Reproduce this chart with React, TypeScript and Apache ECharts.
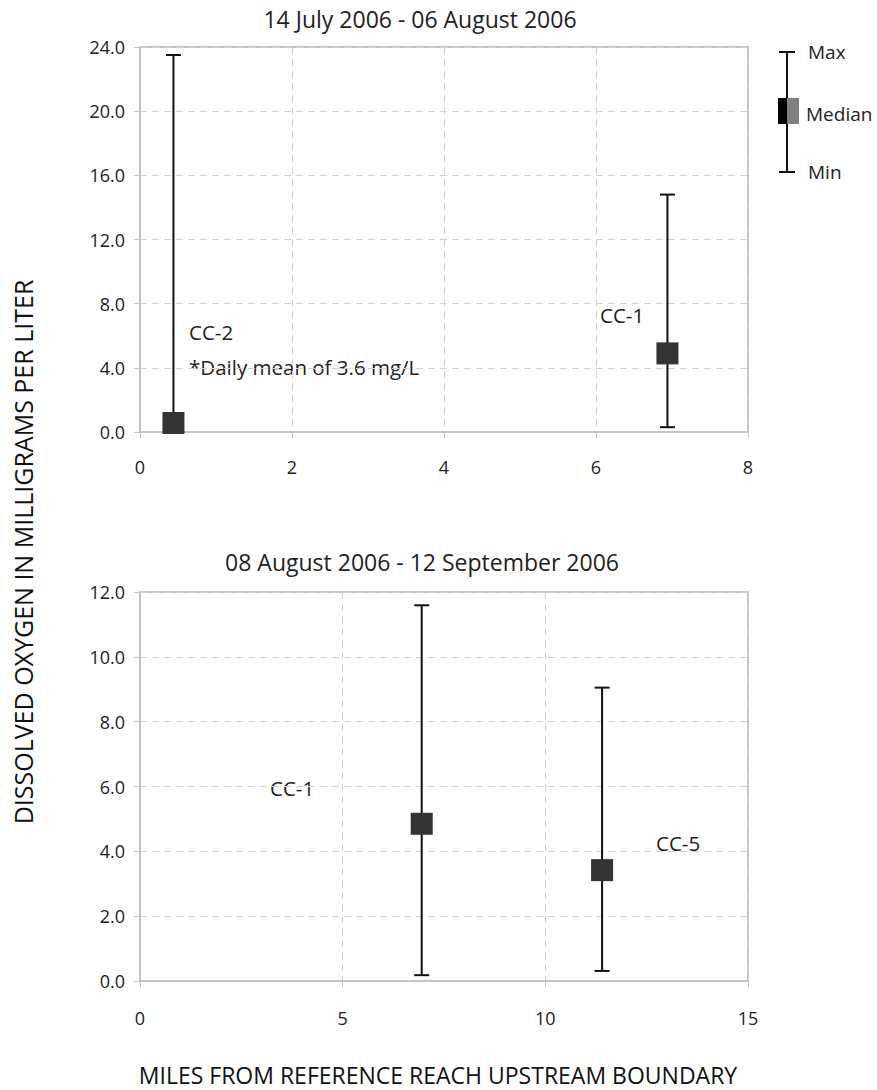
import React, { useEffect, useRef } from "react";
import * as echarts from "echarts";

// ---- Data ----
const topTitle = "14 July 2006 - 06 August 2006";
const bottomTitle = "08 August 2006 - 12 September 2006";
const yAxisTitle = "DISSOLVED OXYGEN IN MILLIGRAMS PER LITER";
const xAxisTitle = "MILES FROM REFERENCE REACH UPSTREAM BOUNDARY";

const topSites = ["CC-2", "CC-1"];
const topMiles = [0.44, 6.94];
const topMin = [0.2, 0.3];
const topMedian = [0.56, 4.9];
const topMax = [23.5, 14.8];

const bottomSites = ["CC-1", "CC-5"];
const bottomMiles = [6.95, 11.4];
const bottomMin = [0.18, 0.31];
const bottomMedian = [4.85, 3.42];
const bottomMax = [11.59, 9.05];

const topXTicks = { min: 0, max: 8, interval: 2 };
const topYTicks = { min: 0, max: 24, interval: 4 };
const bottomXTicks = { min: 0, max: 15, interval: 5 };
const bottomYTicks = { min: 0, max: 12, interval: 2 };

const FONT = "'Open Sans', 'Noto Sans', sans-serif";
const TEXT = "#222";
const BORDER = "#c4c4c4";
const GRIDLINE = "#d0d0d0";

function errorBarItem(params: any, api: any) {
  const x = api.value(0);
  const lo = api.coord([x, api.value(1)]);
  const hi = api.coord([x, api.value(2)]);
  const cap = 7.5;
  const style = { stroke: "#111", lineWidth: 2 };
  return {
    type: "group",
    children: [
      { type: "line", shape: { x1: lo[0], y1: lo[1], x2: hi[0], y2: hi[1] }, style },
      { type: "line", shape: { x1: hi[0] - cap, y1: hi[1], x2: hi[0] + cap, y2: hi[1] }, style },
      { type: "line", shape: { x1: lo[0] - cap, y1: lo[1], x2: lo[0] + cap, y2: lo[1] }, style },
    ],
  };
}

function xAxisCfg(gridIndex: number, t: any, margin: number) {
  return {
    type: "value",
    gridIndex,
    min: t.min,
    max: t.max,
    interval: t.interval,
    axisLine: { show: true, lineStyle: { color: BORDER, width: 2 } },
    axisTick: { show: true, length: 6, lineStyle: { color: BORDER, width: 1 } },
    axisLabel: { color: TEXT, fontSize: 18, fontFamily: FONT, margin },
    splitLine: { show: true, lineStyle: { color: GRIDLINE, type: [7, 5], width: 1 } },
  };
}

function yAxisCfg(gridIndex: number, t: any) {
  return {
    type: "value",
    gridIndex,
    min: t.min,
    max: t.max,
    interval: t.interval,
    axisLine: { show: true, lineStyle: { color: BORDER, width: 2 } },
    axisTick: { show: true, length: 6, lineStyle: { color: BORDER, width: 1 } },
    axisLabel: {
      color: TEXT,
      fontSize: 18,
      fontFamily: FONT,
      margin: 15,
      formatter: (v: number) => v.toFixed(1),
    },
    splitLine: { show: true, lineStyle: { color: GRIDLINE, type: [7, 5], width: 1 } },
  };
}

export default function App() {
  const ref = useRef<HTMLDivElement>(null);

  useEffect(() => {
    if (!ref.current) return;
    const chart = echarts.init(ref.current, null, { renderer: "svg" });

    const topBars = topMiles.map((m, i) => [m, topMin[i], topMax[i], topSites[i]]);
    const topMeds = topMiles.map((m, i) => [m, topMedian[i]]);
    const botBars = bottomMiles.map((m, i) => [m, bottomMin[i], bottomMax[i], bottomSites[i]]);
    const botMeds = bottomMiles.map((m, i) => [m, bottomMedian[i]]);

    const textStyle = (extra: any) => ({
      fill: TEXT,
      fontSize: 19,
      fontFamily: FONT,
      ...extra,
    });

    const medianStyle = { color: "#333", opacity: 1 };

    chart.setOption({
      animation: false,
      backgroundColor: "#fff",
      grid: [
        { left: 140, top: 47, width: 608, height: 385, show: true, borderColor: BORDER, borderWidth: 2 },
        { left: 140, top: 592, width: 608, height: 389, show: true, borderColor: BORDER, borderWidth: 2 },
      ],
      xAxis: [xAxisCfg(0, topXTicks, 26), xAxisCfg(1, bottomXTicks, 28)],
      yAxis: [yAxisCfg(0, topYTicks), yAxisCfg(1, bottomYTicks)],
      series: [
        {
          type: "custom",
          xAxisIndex: 0,
          yAxisIndex: 0,
          renderItem: errorBarItem,
          data: topBars,
          encode: { x: 0, y: [1, 2] },
          z: 3,
        },
        {
          type: "scatter",
          xAxisIndex: 0,
          yAxisIndex: 0,
          symbol: "rect",
          symbolSize: 22,
          itemStyle: medianStyle,
          data: topMeds,
          z: 4,
        },
        {
          type: "custom",
          xAxisIndex: 1,
          yAxisIndex: 1,
          renderItem: errorBarItem,
          data: botBars,
          encode: { x: 0, y: [1, 2] },
          z: 3,
        },
        {
          type: "scatter",
          xAxisIndex: 1,
          yAxisIndex: 1,
          symbol: "rect",
          symbolSize: 22,
          itemStyle: medianStyle,
          data: botMeds,
          z: 4,
        },
      ],
      graphic: [
        { type: "text", x: 420, y: 19, style: textStyle({ text: topTitle, fontSize: 23, align: "center", verticalAlign: "middle" }) },
        { type: "text", x: 422, y: 562, style: textStyle({ text: bottomTitle, fontSize: 23, align: "center", verticalAlign: "middle" }) },
        {
          type: "text",
          x: 23,
          y: 552,
          rotation: Math.PI / 2,
          style: textStyle({ text: yAxisTitle, fontSize: 25, align: "center", verticalAlign: "middle", fill: "#111" }),
        },
        { type: "text", x: 438, y: 1075, style: textStyle({ text: xAxisTitle, fontSize: 23, align: "center", verticalAlign: "middle", fill: "#111" }) },
        // annotations
        { type: "text", x: 189, y: 332, style: textStyle({ text: "CC-2", fontSize: 20.5, verticalAlign: "middle" }) },
        { type: "text", x: 189, y: 367, style: textStyle({ text: "*Daily mean of 3.6 mg/L", fontSize: 20.5, verticalAlign: "middle" }) },
        { type: "text", x: 600, y: 315, style: textStyle({ text: "CC-1", fontSize: 20.5, verticalAlign: "middle" }) },
        { type: "text", x: 270, y: 788, style: textStyle({ text: "CC-1", fontSize: 20.5, verticalAlign: "middle" }) },
        { type: "text", x: 656, y: 843, style: textStyle({ text: "CC-5", fontSize: 20.5, verticalAlign: "middle" }) },
        // legend
        { type: "line", shape: { x1: 787, y1: 52, x2: 787, y2: 172 }, style: { stroke: "#111", lineWidth: 2 } },
        { type: "line", shape: { x1: 779, y1: 52, x2: 795, y2: 52 }, style: { stroke: "#111", lineWidth: 2 } },
        { type: "line", shape: { x1: 779, y1: 172, x2: 795, y2: 172 }, style: { stroke: "#111", lineWidth: 2 } },
        { type: "rect", shape: { x: 778, y: 98, width: 9, height: 26 }, style: { fill: "#000" } },
        { type: "rect", shape: { x: 787, y: 98, width: 12, height: 26 }, style: { fill: "#808080" } },
        { type: "text", x: 808, y: 52, style: textStyle({ text: "Max", verticalAlign: "middle" }) },
        { type: "text", x: 806, y: 114, style: textStyle({ text: "Median", verticalAlign: "middle" }) },
        { type: "text", x: 808, y: 172, style: textStyle({ text: "Min", verticalAlign: "middle" }) },
      ],
    });

    return () => chart.dispose();
  }, []);

  return (
    <div
      ref={ref}
      style={{ position: "fixed", left: 0, top: 0, width: 877, height: 1090, background: "#fff" }}
    />
  );
}
